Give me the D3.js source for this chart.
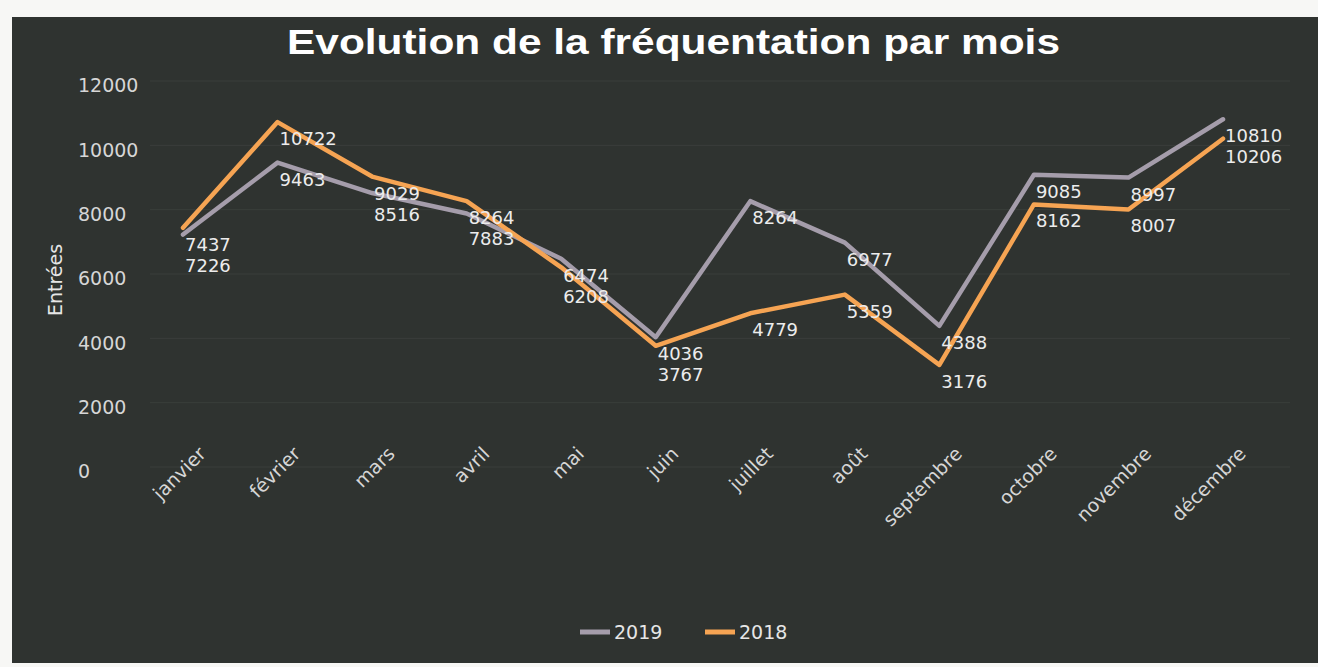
<!DOCTYPE html>
<html>
<head>
<meta charset="utf-8">
<script src="https://cdn.jsdelivr.net/npm/d3@7"></script>
<style>
  body { margin: 0; background: #f7f7f5; }
  svg { display: block; }
</style>
</head>
<body>
<div id="chart"></div>
<script>
// data
var months = ["janvier", "février", "mars", "avril", "mai", "juin",
  "juillet", "août", "septembre", "octobre", "novembre", "décembre"];
var entrees2019 = [7226, 9463, 8516, 7883, 6474, 4036, 8264, 6977, 4388, 9085, 8997, 10810];
var entrees2018 = [7437, 10722, 9029, 8264, 6208, 3767, 4779, 5359, 3176, 8162, 8007, 10206];
var yTicks = [0, 2000, 4000, 6000, 8000, 10000, 12000];
var seriesNames = ["2019", "2018"];

var svgWidth = 1318;
var svgHeight = 667;

var colors = { "2019": "#a59dab", "2018": "#f6a453" };
var numFont = "'DejaVu Sans', sans-serif";

var svg = d3.select("#chart")
  .append("svg")
  .attr("width", svgWidth)
  .attr("height", svgHeight);

// dark chart panel (white strip of the scan round it)
svg.append("rect")
  .attr("x", 12)
  .attr("y", 17)
  .attr("width", svgWidth - 12)
  .attr("height", 646)
  .attr("fill", "#2f3330");

var xScale = d3.scalePoint()
  .domain(months)
  .range([183, 1223]);

var yScale = d3.scaleLinear()
  .domain([0, 12000])
  .range([467, 81]);

// faint gridlines
svg.append("g")
  .selectAll("line")
  .data(yTicks)
  .enter()
  .append("line")
  .attr("x1", 150)
  .attr("x2", 1290)
  .attr("y1", d => yScale(d))
  .attr("y2", d => yScale(d))
  .attr("stroke", "#3a3e3b")
  .attr("stroke-width", 1);

// y tick labels (left aligned like the original)
svg.append("g")
  .selectAll("text")
  .data(yTicks)
  .enter()
  .append("text")
  .attr("x", 78)
  .attr("y", d => yScale(d))
  .attr("dy", "0.6em")
  .attr("fill", "#d6d6d6")
  .attr("font-family", numFont)
  .attr("font-size", "19px")
  .text(d => d);

// y axis title
svg.append("text")
  .attr("transform", "translate(62, 280) rotate(-90)")
  .attr("text-anchor", "middle")
  .attr("fill", "#e6e6e6")
  .attr("font-family", numFont)
  .attr("font-size", "19px")
  .text("Entrées");

// month labels, rotated
svg.append("g")
  .selectAll("text")
  .data(months)
  .enter()
  .append("text")
  .attr("transform", d => `translate(${xScale(d) + 24}, 455) rotate(-45)`)
  .attr("text-anchor", "end")
  .attr("fill", "#d6d6d6")
  .attr("font-family", numFont)
  .attr("font-size", "19px")
  .text(d => d);

var line = d3.line()
  .x((d, i) => xScale(months[i]))
  .y(d => yScale(d));

var series = [
  { name: "2019", values: entrees2019 },
  { name: "2018", values: entrees2018 }
];

// lines, 2019 first so 2018 sits on top
series.forEach(function(s) {
  svg.append("path")
    .datum(s.values)
    .attr("d", line)
    .attr("fill", "none")
    .attr("stroke", colors[s.name])
    .attr("stroke-width", 4.5)
    .attr("stroke-linejoin", "round")
    .attr("stroke-linecap", "round");
});

// label baselines below each point; when the two months' labels
// would collide, push the lower one down a little
var minGap = 21;
var labelY = series.map(s => s.values.map(v => yScale(v) + 23));
months.forEach(function(m, i) {
  var a = labelY[0][i], b = labelY[1][i];
  if (Math.abs(a - b) < minGap) {
    if (a >= b) labelY[0][i] = b + minGap;
    else labelY[1][i] = a + minGap;
  }
});

// data labels, under and to the right of each point
series.forEach(function(s, k) {
  svg.append("g")
    .selectAll("text")
    .data(s.values)
    .enter()
    .append("text")
    .attr("x", (d, i) => xScale(months[i]) + 2)
    .attr("y", (d, i) => labelY[k][i])
    .attr("fill", "#ececec")
    .attr("font-family", numFont)
    .attr("font-size", "18px")
    .text(d => d);
});

// title
svg.append("text")
  .attr("x", 287)
  .attr("y", 54)
  .attr("textLength", 773)
  .attr("lengthAdjust", "spacingAndGlyphs")
  .attr("fill", "#ffffff")
  .attr("font-family", "'Liberation Sans', Arial, sans-serif")
  .attr("font-weight", "bold")
  .attr("font-size", "35px")
  .text("Evolution de la fréquentation par mois");

// legend
var legendX = d3.scalePoint()
  .domain(seriesNames)
  .range([580, 705]);

var legend = svg.append("g")
  .selectAll("g")
  .data(seriesNames)
  .enter()
  .append("g")
  .attr("transform", d => `translate(${legendX(d)}, 632)`);

legend.append("line")
  .attr("x1", 0)
  .attr("x2", 30)
  .attr("stroke", d => colors[d])
  .attr("stroke-width", 5);

legend.append("text")
  .attr("x", 34)
  .attr("dy", "0.36em")
  .attr("fill", "#e6e6e6")
  .attr("font-family", numFont)
  .attr("font-size", "19px")
  .text(d => d);
</script>
</body>
</html>
